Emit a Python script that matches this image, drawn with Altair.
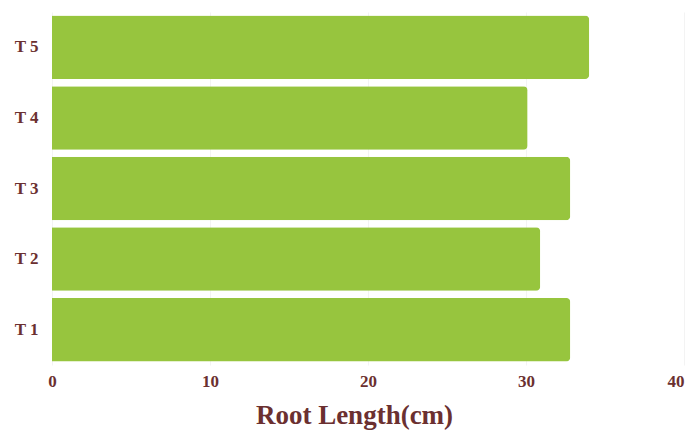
import altair as alt
import pandas as pd

treatments = ["T 1", "T 2", "T 3", "T 4", "T 5"]
root_length = [32.8, 30.9, 32.8, 30.1, 34.0]

df = pd.DataFrame({"Treatment": treatments, "Root Length": root_length})

text_color = "#6B3030"
font = "Liberation Serif"

chart = alt.Chart(df).mark_bar(
    color="#97C53E", cornerRadiusEnd=4
).encode(
    x=alt.X("Root Length:Q",
            scale=alt.Scale(domain=[0, 40], nice=False),
            axis=alt.Axis(values=[0, 10, 20, 30, 40], title="Root Length(cm)",
                          grid=True, gridColor="#f3f3f3", domain=False, ticks=False,
                          labelFlush=False,
                          labelAlign=alt.expr("datum.value == 40 ? 'right' : 'center'"),
                          labelFont=font, labelFontSize=17, labelFontWeight="bold",
                          labelColor=text_color, labelPadding=8,
                          titleFont=font, titleFontSize=27, titleFontWeight="bold",
                          titleColor=text_color, titlePadding=13, titleX=302)),
    y=alt.Y("Treatment:N", sort=treatments[::-1],
            scale=alt.Scale(paddingInner=0.1, paddingOuter=0.05),
            axis=alt.Axis(title=None, domain=False, ticks=False, grid=False,
                          labelFont=font, labelFontSize=17, labelFontWeight="bold",
                          labelColor=text_color, labelPadding=14)),
).properties(
    width=632, height=353,
    autosize=alt.AutoSizeParams(type="none"),
    padding={"left": 44, "top": 4, "right": 1, "bottom": 66},
).configure_view(stroke=None)

chart.save("out.html", embed_options={"renderer": "svg", "actions": False})
